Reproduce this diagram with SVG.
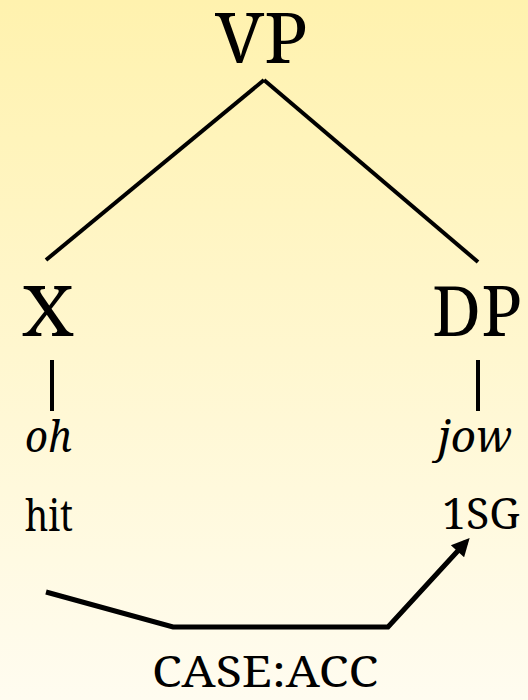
<svg xmlns="http://www.w3.org/2000/svg" width="528" height="700" viewBox="0 0 528 700">
<defs>
<linearGradient id="bg" x1="0" y1="0" x2="0" y2="1">
<stop offset="0" stop-color="#FFF2AE"/>
<stop offset="1" stop-color="#FFFCF0"/>
</linearGradient>
<marker id="arr" viewBox="0 0 10 10" refX="7" refY="5" markerWidth="4.4" markerHeight="3.6" orient="auto" markerUnits="strokeWidth">
<path d="M0,0 L10,5 L0,10 Z" fill="#000"/>
</marker>
<style>
text{font-family:'Noto Serif','DejaVu Serif',serif;fill:#000}
.big{font-size:70px}
.sm{font-size:44px}
.it{font-style:italic}
.ln{stroke:#000;stroke-width:4;fill:none}
.ar{stroke:#000;stroke-width:5;fill:none}
</style>
</defs>
<rect width="528" height="700" fill="url(#bg)"/>
<g id="connectors">
<line class="ln" x1="264" y1="80" x2="46" y2="260"/>
<line class="ln" x1="264" y1="80" x2="478" y2="262"/>
<line class="ln" x1="52" y1="360" x2="52" y2="411"/>
<line class="ln" x1="478" y1="360" x2="478" y2="411"/>
<polyline class="ar" points="46,592 173,627 388,627 466,542" marker-end="url(#arr)"/>
</g>
<g id="VP"><text class="big" x="215" y="63" textLength="93" lengthAdjust="spacingAndGlyphs">VP</text></g>
<g id="X"><text class="big" x="22" y="336" textLength="52" lengthAdjust="spacingAndGlyphs">X</text></g>
<g id="DP"><text class="big" x="432" y="336" textLength="90" lengthAdjust="spacingAndGlyphs">DP</text></g>
<g id="oh"><text class="sm it" x="25" y="452" textLength="47" lengthAdjust="spacingAndGlyphs">oh</text></g>
<g id="jow"><text class="sm it" x="438" y="452" textLength="74" lengthAdjust="spacingAndGlyphs">jow</text></g>
<g id="hit"><text class="sm" x="25" y="531" textLength="48" lengthAdjust="spacingAndGlyphs">hit</text></g>
<g id="1SG"><text class="sm" x="442" y="529" textLength="78" lengthAdjust="spacingAndGlyphs">1SG</text></g>
<g id="CASE-ACC"><text class="sm" x="152" y="687" textLength="226" lengthAdjust="spacingAndGlyphs">CASE:ACC</text></g>
</svg>
